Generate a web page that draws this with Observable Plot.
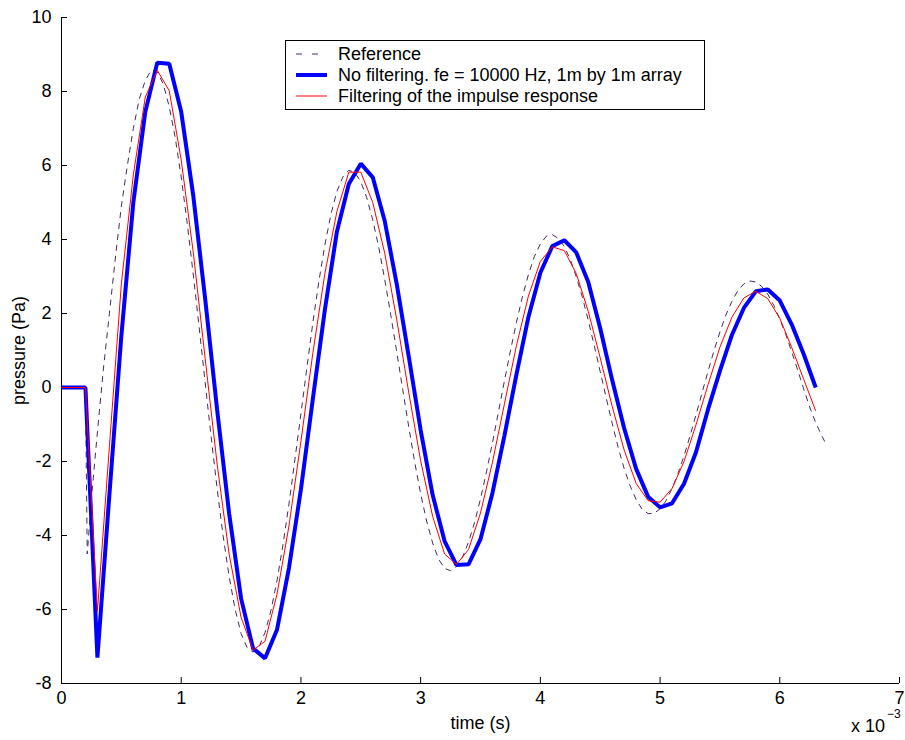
<!DOCTYPE html>
<html>
<head>
<meta charset="utf-8">
<script src="https://cdn.jsdelivr.net/npm/d3@7"></script>
<script src="https://cdn.jsdelivr.net/npm/@observablehq/plot@0.6"></script>
<style>
  body { margin: 0; background: #fff; }
  #chart { width: 905px; height: 740px; }
</style>
</head>
<body>
<div id="chart"></div>
<script>
// ---------- data (time in ms, pressure in Pa) ----------
const sampleStepMs = 0.1; // fe = 10000 Hz

const noFiltering = [
  0, 0, 0, -7.3, -2.9, 1.4, 5.0, 7.45, 8.78, 8.75,
  7.45, 5.2, 2.4, -0.6, -3.4, -5.7, -7.05, -7.32, -6.55, -4.88,
  -2.75, -0.3, 2.1, 4.2, 5.5, 6.05, 5.68, 4.5, 2.8, 0.85,
  -1.15, -2.9, -4.15, -4.8, -4.78, -4.1, -2.85, -1.3, 0.35, 1.9,
  3.1, 3.82, 3.98, 3.65, 2.85, 1.6, 0.2, -1.1, -2.2, -2.95,
  -3.24, -3.13, -2.6, -1.75, -0.6, 0.45, 1.42, 2.15, 2.6, 2.65,
  2.35, 1.7, 0.9, 0.0
];

const filtered = [
  0, 0, 0, -6.05, -1.6, 2.8, 5.75, 7.85, 8.57, 8.02,
  6.15, 3.67, 0.78, -2.07, -4.5, -6.21, -7.1, -6.86, -5.59, -3.74,
  -1.45, 0.94, 3.08, 4.75, 5.82, 5.82, 5.0, 3.63, 1.84, -0.12,
  -1.98, -3.48, -4.5, -4.78, -4.38, -3.39, -2.02, -0.44, 1.13, 2.47,
  3.41, 3.8, 3.7, 3.08, 2.06, 0.8, -0.51, -1.69, -2.59, -3.06,
  -3.1, -2.73, -2.0, -1.01, 0.07, 1.09, 1.9, 2.42, 2.6, 2.4,
  1.87, 1.08, 0.22, -0.63
];

const refTime = [
  0, 0.2, 0.215, 0.25, 0.30, 0.35, 0.40, 0.45, 0.50, 0.55, 0.60, 0.65, 0.70, 0.75,
  0.80, 0.85, 0.90, 0.95, 1.00, 1.05, 1.10, 1.15, 1.20, 1.25, 1.30, 1.35, 1.40, 1.45,
  1.50, 1.55, 1.60, 1.65, 1.70, 1.75, 1.80, 1.85, 1.90, 1.95, 2.00, 2.05, 2.10, 2.15,
  2.20, 2.25, 2.30, 2.35, 2.40, 2.45, 2.50, 2.55, 2.60, 2.65, 2.70, 2.75, 2.80, 2.85,
  2.90, 2.95, 3.00, 3.05, 3.10, 3.15, 3.20, 3.25, 3.30, 3.35, 3.40, 3.45, 3.50, 3.55,
  3.60, 3.65, 3.70, 3.75, 3.80, 3.85, 3.90, 3.95, 4.00, 4.05, 4.10, 4.15, 4.20, 4.25,
  4.30, 4.35, 4.40, 4.45, 4.50, 4.55, 4.60, 4.65, 4.70, 4.75, 4.80, 4.85, 4.90, 4.95,
  5.00, 5.05, 5.10, 5.15, 5.20, 5.25, 5.30, 5.35, 5.40, 5.45, 5.50, 5.55, 5.60, 5.65,
  5.70, 5.75, 5.80, 5.85, 5.90, 5.95, 6.00, 6.05, 6.10, 6.15, 6.20, 6.25, 6.30, 6.35,
  6.385
];
const refPressure = [
  0, 0, -4.5, -3.0, -1.2, 0.5, 2.0, 3.5, 4.9, 6.0, 7.0, 7.8, 8.3, 8.58,
  8.53, 8.20, 7.59, 6.75, 5.69, 4.44, 3.07, 1.62, 0.13, -1.34, -2.73, -4.01, -5.10, -5.99,
  -6.65, -7.03, -7.15, -7.01, -6.62, -6.02, -5.22, -4.25, -3.15, -1.94, -0.71, 0.54, 1.76, 2.87,
  3.85, 4.67, 5.30, 5.69, 5.87, 5.81, 5.56, 5.13, 4.53, 3.79, 2.92, 1.97, 0.97, -0.05,
  -1.05, -2.01, -2.87, -3.61, -4.20, -4.64, -4.89, -4.95, -4.84, -4.58, -4.18, -3.65, -3.01, -2.28,
  -1.49, -0.66, 0.18, 0.99, 1.76, 2.45, 3.05, 3.54, 3.88, 4.09, 4.13, 4.03, 3.81, 3.46,
  2.99, 2.45, 1.82, 1.13, 0.43, -0.28, -0.97, -1.62, -2.19, -2.66, -3.03, -3.29, -3.41, -3.40,
  -3.28, -3.06, -2.73, -2.32, -1.85, -1.31, -0.74, -0.15, 0.43, 0.99, 1.50, 1.96, 2.33, 2.62,
  2.80, 2.88, 2.85, 2.73, 2.52, 2.22, 1.85, 1.43, 0.96, 0.47, -0.04, -0.53, -0.95, -1.30,
  -1.52
];

const seriesNames = [
  "Reference",
  "No filtering. fe = 10000 Hz, 1m by 1m array",
  "Filtering of the impulse response"
];
const seriesColors = ["#4a2a5a", "#0000ff", "#ff0000"];
const seriesWidths = [1, 4, 1];
const seriesDash = ["6,5", null, null];

const xTicks = [0, 1, 2, 3, 4, 5, 6, 7];
const yTicks = [-8, -6, -4, -2, 0, 2, 4, 6, 8, 10];

// ---------- tables ----------
const refData = refTime.map((t, i) => ({t, p: refPressure[i]}));
const blueData = noFiltering.map((p, i) => ({t: +(i * sampleStepMs).toFixed(2), p}));
const redData = filtered.map((p, i) => ({t: +(i * sampleStepMs).toFixed(2), p}));

const font = "'Liberation Sans', Arial, Helvetica, sans-serif";
const W = 905, H = 740, mL = 61, mR = 6, mT = 17, mB = 57;
const tickLen = 6;

const chart = Plot.plot({
  width: W,
  height: H,
  marginLeft: mL,
  marginRight: mR,
  marginTop: mT,
  marginBottom: mB,
  style: {fontFamily: font, fontSize: "18px", background: "#fff", color: "#000", overflow: "visible"},
  x: {domain: [0, 7]},
  y: {domain: [-8, 10]},
  marks: [
    // tick labels and axis titles
    Plot.axisX(xTicks, {anchor: "bottom", tickSize: 0, tickPadding: 8, label: "time (s)",
      labelAnchor: "center", labelArrow: "none", labelOffset: 45, tickFormat: d => String(d), fontSize: 18}),
    Plot.axisY(yTicks, {anchor: "left", tickSize: 0, tickPadding: 10, label: "pressure (Pa)",
      labelAnchor: "center", labelArrow: "none", labelOffset: 49, tickFormat: d => String(d), fontSize: 18}),
    // inward tick marks
    Plot.ruleX(xTicks, {x: d => d, stroke: "#000", insetTop: (H - mT - mB) - tickLen}),
    Plot.ruleY(yTicks, {y: d => d, stroke: "#000", insetRight: (W - mL - mR) - tickLen}),
    // axis lines
    Plot.ruleX([0], {stroke: "#000", strokeWidth: 1}),
    Plot.ruleY([-8], {stroke: "#000", strokeWidth: 1}),
    // series
    Plot.line(refData, {x: "t", y: "p", stroke: seriesColors[0], strokeWidth: seriesWidths[0],
      strokeDasharray: seriesDash[0], strokeLinejoin: "round", strokeLinecap: "butt"}),
    Plot.line(blueData, {x: "t", y: "p", stroke: seriesColors[1], strokeWidth: seriesWidths[1],
      strokeLinejoin: "miter", strokeLinecap: "butt"}),
    Plot.line(redData, {x: "t", y: "p", stroke: seriesColors[2], strokeWidth: seriesWidths[2],
      strokeLinejoin: "miter", strokeLinecap: "butt"})
  ]
});

document.getElementById("chart").appendChild(chart);

// ---------- legend and exponent (inside the same SVG) ----------
const svg = d3.select(chart);
const lg = svg.append("g").attr("font-family", font).attr("font-size", 18).attr("text-anchor", "start");
lg.append("rect")
  .attr("x", 285.5).attr("y", 40.5).attr("width", 419).attr("height", 69)
  .attr("fill", "#fff").attr("stroke", "#000").attr("stroke-width", 1);
const rowY = [54, 75, 96];
seriesNames.forEach((name, i) => {
  lg.append("line")
    .attr("x1", 296).attr("x2", 327).attr("y1", rowY[i]).attr("y2", rowY[i])
    .attr("stroke", seriesColors[i]).attr("stroke-width", seriesWidths[i])
    .attr("stroke-dasharray", seriesDash[i] ? "6,10" : null);
  lg.append("text")
    .attr("x", 338).attr("y", rowY[i]).attr("dy", "0.36em")
    .attr("fill", "#000").attr("text-anchor", "start").text(name);
});

const ex = svg.append("text").attr("font-family", font).attr("font-size", 18).attr("fill", "#000")
  .attr("text-anchor", "start").attr("x", 851).attr("y", 732);
ex.append("tspan").text("x 10");
ex.append("tspan").attr("font-size", 12).attr("dy", -14).attr("dx", 2).text("\u22123");
</script>
</body>
</html>
